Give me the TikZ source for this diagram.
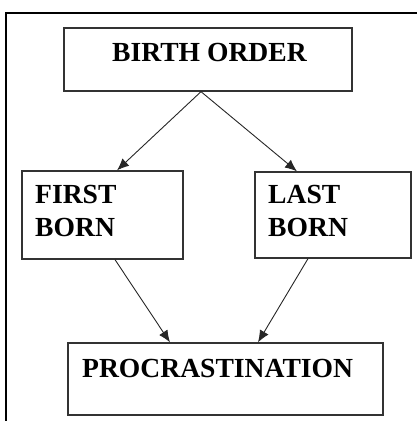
\documentclass[tikz,border=0pt]{standalone}
\usepackage{fontspec}
\setmainfont{Liberation Serif}
\usetikzlibrary{arrows.meta}
\begin{document}
\begin{tikzpicture}[x=1pt,y=-1pt,
  box/.style={draw=black!80,line width=1.3pt,rectangle,inner sep=0pt},
  lbl/.style={inner sep=0pt,anchor=base west,font=\fontsize{27.6}{32}\selectfont\bfseries},
  arr/.style={draw=black!85,line width=0.9pt,-{Latex[length=12pt,width=10pt]}},
  frame/.style={draw=black,line width=1.6pt}]
\useasboundingbox (0,0) rectangle (417,421);
\coordinate (ftl) at (6,13);
\coordinate (ftr) at (417,13);
\coordinate (fbl) at (6,421);
\draw[frame] (fbl) -- (ftl) -- (ftr);
\node[box,minimum width=288pt,minimum height=63pt] (bo) at (208,59.5) {};
\node[box,minimum width=161pt,minimum height=88pt] (fb) at (102.5,215) {};
\node[box,minimum width=156pt,minimum height=86pt] (lb) at (333,215) {};
\node[box,minimum width=315pt,minimum height=72pt] (pr) at (225.5,379) {};
\node[lbl] (tbo) at (112,61) {BIRTH ORDER};
\node[lbl] (tf1) at (35,203) {FIRST};
\node[lbl] (tf2) at (35,236) {BORN};
\node[lbl] (tl1) at (268,203) {LAST};
\node[lbl] (tl2) at (268,236) {BORN};
\node[lbl] (tpr) at (82,377) {PROCRASTINATION};
\draw[arr] ([xshift=-7pt]bo.south) -- ([xshift=14.5pt]fb.north);
\draw[arr] ([xshift=-7pt]bo.south) -- ([xshift=-36pt]lb.north);
\draw[arr] ([xshift=12.5pt]fb.south) -- ([xshift=-55.5pt]pr.north);
\draw[arr] ([xshift=-25pt]lb.south) -- ([xshift=32.5pt]pr.north);
\end{tikzpicture}
\end{document}
